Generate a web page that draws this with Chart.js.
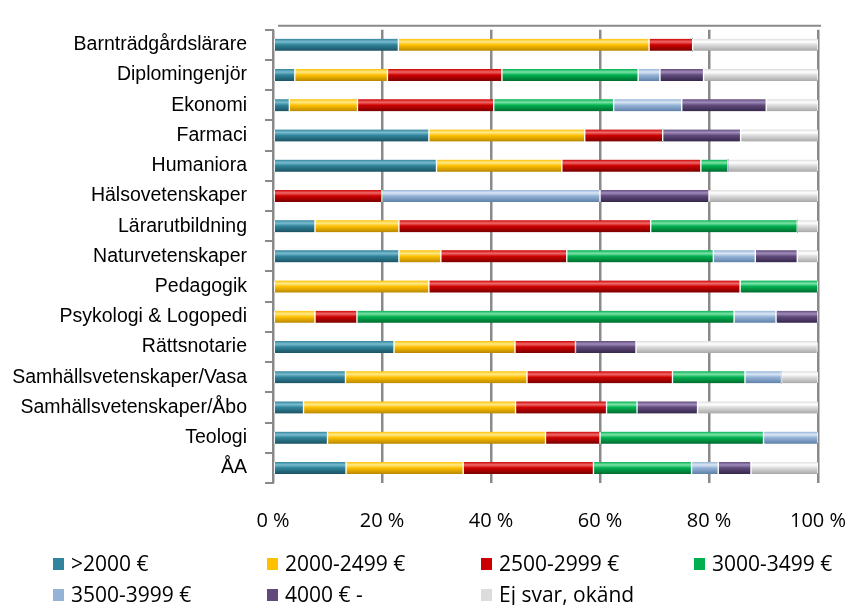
<!DOCTYPE html>
<html>
<head>
<meta charset="utf-8">
<script src="https://cdn.jsdelivr.net/npm/chart.js@4.4.1/dist/chart.umd.min.js"></script>
<style>
  html, body { margin: 0; padding: 0; background: #fff; }
  #wrap { position: relative; width: 847px; height: 605px; }
  #legend { position: absolute; left: 0; top: 0; width: 847px; height: 605px; pointer-events: none;
            font-family: "Open Sans", sans-serif; font-size: 21px; color: #000; }
  .item { position: absolute; display: flex; align-items: center; white-space: nowrap; line-height: 1; }
  .box { width: 11px; height: 12px; margin-right: 7px; }
</style>
</head>
<body>
<div id="wrap">
  <canvas id="chart" width="847" height="605"></canvas>
  <div id="legend"></div>
</div>
<script>
const categories = ['Barnträdgårdslärare', 'Diplomingenjör', 'Ekonomi', 'Farmaci', 'Humaniora',
  'Hälsovetenskaper', 'Lärarutbildning', 'Naturvetenskaper', 'Pedagogik', 'Psykologi & Logopedi',
  'Rättsnotarie', 'Samhällsvetenskaper/Vasa', 'Samhällsvetenskaper/Åbo', 'Teologi', 'ÅA'];

const seriesNames = ['>2000 €', '2000-2499 €', '2500-2999 €', '3000-3499 €', '3500-3999 €', '4000 € -', 'Ej svar, okänd'];

// andel i procent per kategori
const under2000 = [23, 4, 3, 28.6, 30, 0, 7.7, 23.1, 0, 0, 22.2, 13.3, 5.6, 10, 13.4];
const s2000 = [46, 17, 12.5, 28.6, 23, 0, 15.4, 7.7, 28.6, 7.7, 22.2, 33.3, 38.9, 40, 21.5];
const s2500 = [8, 21, 25, 14.3, 25.5, 20, 46.2, 23.1, 57.1, 7.7, 11.1, 26.7, 16.7, 10, 23.9];
const s3000 = [0, 25, 22, 0, 5, 0, 26.9, 26.9, 14.3, 69.2, 0, 13.3, 5.6, 30, 18];
const s3500 = [0, 4, 12.5, 0, 0, 40, 0, 7.7, 0, 7.7, 0, 6.7, 0, 10, 4.9];
const s4000 = [0, 8, 15.5, 14.3, 0, 20, 0, 7.7, 0, 7.7, 11.1, 0, 11.1, 0, 6];
const ejSvar = [23, 21, 9.5, 14.3, 16.5, 20, 3.8, 3.8, 0, 0, 33.3, 6.7, 22.2, 0, 12.3];

const xTicks = [0, 20, 40, 60, 80, 100];

const seriesData = [under2000, s2000, s2500, s3000, s3500, s4000, ejSvar];
// [ljus topp, bas, mörk botten]
const palette = [
  ['#79bccf', '#31849b', '#1b5262'],
  ['#ffea8a', '#ffc000', '#b88700'],
  ['#f06a6a', '#cc0000', '#7a0000'],
  ['#7de3a8', '#00b050', '#006b30'],
  ['#dbe7f5', '#95b3d7', '#5f80a8'],
  ['#a08cba', '#604a7b', '#35274a'],
  ['#ffffff', '#dcdcdc', '#a8a8a8'],
];

const BAR_H = 12;

function barFill(idx) {
  return function (ctx) {
    const chart = ctx.chart;
    const y = chart.scales && chart.scales.y;
    const c = palette[idx];
    if (!y || ctx.dataIndex === undefined) return c[1];
    const yc = y.getPixelForValue(ctx.dataIndex);
    if (!isFinite(yc)) return c[1];
    const g = chart.ctx.createLinearGradient(0, yc - BAR_H / 2, 0, yc + BAR_H / 2);
    g.addColorStop(0, c[1]);
    g.addColorStop(0.25, c[0]);
    g.addColorStop(0.5, c[1]);
    g.addColorStop(1, c[2]);
    return g;
  };
}

// bakväggens övre kant
const wallPlugin = {
  id: 'wall',
  beforeDatasetsDraw(chart) {
    const { ctx, chartArea } = chart;
    const x = chart.scales.x;
    ctx.save();
    ctx.strokeStyle = '#8a8a8a';
    ctx.lineWidth = 2;
    ctx.beginPath();
    ctx.moveTo(x.getPixelForValue(0) + 5, chartArea.top - 4);
    ctx.lineTo(x.getPixelForValue(100) + 3, chartArea.top - 4);
    ctx.stroke();
    ctx.restore();
  }
};

const chart = new Chart(document.getElementById('chart'), {
  type: 'bar',
  data: {
    labels: categories,
    datasets: seriesData.map((d, i) => ({
      label: seriesNames[i],
      data: d,
      backgroundColor: barFill(i),
      borderColor: '#ffffff',
      borderWidth: { left: 1, right: 1, top: 0, bottom: 0 },
      borderSkipped: false,
      borderRadius: 2,
      barThickness: BAR_H,
    })),
  },
  options: {
    indexAxis: 'y',
    responsive: false,
    animation: false,
    layout: { padding: { top: 24, right: 0, left: 0, bottom: 0 } },
    plugins: {
      legend: { display: false },
      tooltip: { enabled: false },
    },
    scales: {
      x: {
        stacked: true,
        min: 0,
        max: 100,
        afterBuildTicks: (s) => { s.ticks = xTicks.map(v => ({ value: v })); },
        afterFit: (s) => { s.height = 122; s.paddingRight = 29; s.paddingLeft = 0; },
        grid: { color: '#8a8a8a', lineWidth: 2.5, drawTicks: false },
        border: { display: false },
        ticks: {
          padding: 26,
          color: '#000',
          font: { family: 'Open Sans', size: 20 },
          callback: (v) => v + ' %',
        },
      },
      y: {
        stacked: true,
        afterFit: (s) => { s.width = 273; },
        grid: { offset: true, drawOnChartArea: false, tickLength: 8, color: '#8a8a8a', lineWidth: 2 },
        border: { color: '#8a8a8a', width: 2 },
        ticks: {
          padding: 18,
          color: '#000',
          font: { family: 'Liberation Sans', size: 19.5 },
        },
      },
    },
  },
  plugins: [wallPlugin],
});
chart.update();

// förklaring i två rader, som i originalet
const legendEl = document.getElementById('legend');
const colX = [53, 267, 481, 694];
const rowY = [564, 595];
seriesNames.forEach((name, i) => {
  const item = document.createElement('div');
  item.className = 'item';
  item.style.left = colX[i % 4] + 'px';
  item.style.top = (rowY[Math.floor(i / 4)] - 11) + 'px';
  const box = document.createElement('span');
  box.className = 'box';
  box.style.background = palette[i][1];
  const txt = document.createElement('span');
  txt.textContent = name;
  item.appendChild(box);
  item.appendChild(txt);
  legendEl.appendChild(item);
});
</script>
</body>
</html>
